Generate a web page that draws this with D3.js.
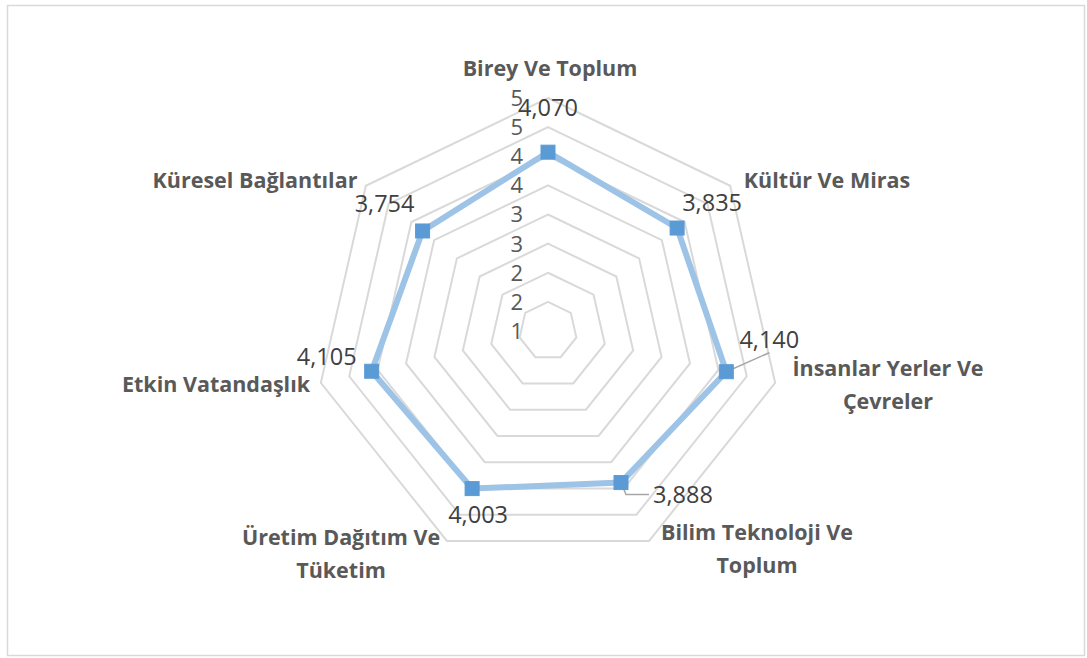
<!DOCTYPE html>
<html lang="tr">
<head>
<meta charset="utf-8">
<style type="text/css">
body { margin: 0; background: #fff; }
.grid { fill: none; stroke: #d9d9d9; stroke-width: 2px; }
.series { fill: none; stroke: #9dc3e6; stroke-width: 6px; stroke-linejoin: round; }
.marker { fill: #5b9bd5; stroke: #5b9bd5; stroke-width: 1px; }
.leader { stroke: #a6a6a6; stroke-width: 1.5px; fill: none; }
.cat { font-family: "Open Sans", sans-serif; font-weight: bold; font-size: 21.5px; fill: #595959; }
.val { font-family: "Open Sans", sans-serif; font-size: 23.5px; fill: #404040; }
.tick { font-family: "Open Sans", sans-serif; font-size: 22px; fill: #595959; }
</style>
</head>
<body>
<svg width="1087" height="658"></svg>
<script src="https://d3js.org/d3.v7.min.js"></script>
<script type="text/javascript">
var categories = [
    ["Birey Ve Toplum"],
    ["Kültür Ve Miras"],
    ["İnsanlar Yerler Ve", "Çevreler"],
    ["Bilim Teknoloji Ve", "Toplum"],
    ["Üretim Dağıtım Ve", "Tüketim"],
    ["Etkin Vatandaşlık"],
    ["Küresel Bağlantılar"]
];
var values = [4.070, 3.835, 4.140, 3.888, 4.003, 4.105, 3.754];
var ticks = [1, 1.5, 2, 2.5, 3, 3.5, 4, 4.5, 5];

// label placement (offsets from marker / positions of category text)
var valueOffsets = [[0, -45], [35, -25], [43, -32], [62, 12], [6, 26], [-45, -15], [-38, -27]];
var leaders = [false, false, true, true, false, false, false];
var catPos = [[550, 68], [827, 180], [888, 368], [757, 532], [341, 537], [216, 384], [255, 180]];

var svg = d3.select("svg"),
    cx = 548,
    cy = 331,
    R = 233;

svg.append("rect")
    .attr("x", 7.5).attr("y", 5.5)
    .attr("width", 1077).attr("height", 650)
    .attr("fill", "none").attr("stroke", "#d9d9d9").attr("stroke-width", 1.5);

var r = d3.scaleLinear().domain([1, 5]).range([0, R]);
var n = categories.length;

function angle(i) { return -Math.PI / 2 + i * 2 * Math.PI / n; }
function pt(i, v) {
    return [cx + r(v) * Math.cos(angle(i)), cy + r(v) * Math.sin(angle(i))];
}

var line = d3.line();

// grid rings
svg.selectAll(".grid")
    .data(ticks.slice(1))
    .enter()
    .append("path")
    .attr("class", "grid")
    .attr("d", function (t) {
        return line(d3.range(n).map(function (i) { return pt(i, t); })) + "Z";
    });

// tick labels
svg.selectAll(".tick")
    .data(ticks)
    .enter()
    .append("text")
    .attr("class", "tick")
    .attr("x", cx - 25)
    .attr("y", function (t) { return cy - r(t); })
    .attr("dy", "0.36em")
    .attr("text-anchor", "end")
    .text(function (t) { return d3.format(".0f")(t + 1e-9); });

// series
var pts = values.map(function (v, i) { return pt(i, v); });
svg.append("path")
    .attr("class", "series")
    .attr("d", line(pts) + "Z");

// leader lines
svg.selectAll(".leader")
    .data(pts.filter(function (p, i) { return leaders[i]; }))
    .enter()
    .append("path")
    .attr("class", "leader")
    .attr("d", function (p) {
        var i = pts.indexOf(p), o = valueOffsets[i];
        if (o[1] < 0) return "M" + p[0] + "," + p[1] + "L" + (p[0] + o[0]) + "," + (p[1] + o[1] + 13);
        return "M" + p[0] + "," + p[1] + "L" + (p[0] + 5) + "," + (p[1] + o[1]) + "L" + (p[0] + o[0] - 34) + "," + (p[1] + o[1]);
    });

svg.selectAll(".marker")
    .data(pts)
    .enter()
    .append("rect")
    .attr("class", "marker")
    .attr("x", function (p) { return p[0] - 7; })
    .attr("y", function (p) { return p[1] - 7; })
    .attr("width", 14)
    .attr("height", 14);

// value labels
svg.selectAll(".val")
    .data(values)
    .enter()
    .append("text")
    .attr("class", "val")
    .attr("x", function (v, i) { return pts[i][0] + valueOffsets[i][0]; })
    .attr("y", function (v, i) { return pts[i][1] + valueOffsets[i][1]; })
    .attr("dy", "0.36em")
    .attr("text-anchor", "middle")
    .text(function (v) { return d3.format(".3f")(v).replace(".", ","); });

// category labels
var cat = svg.selectAll(".cat")
    .data(categories)
    .enter()
    .append("text")
    .attr("class", "cat")
    .attr("text-anchor", "middle")
    .attr("x", function (d, i) { return catPos[i][0]; })
    .attr("y", function (d, i) { return catPos[i][1]; });

cat.selectAll("tspan")
    .data(function (d, i) { return d.map(function (s) { return [s, i]; }); })
    .enter()
    .append("tspan")
    .attr("x", function (d) { return catPos[d[1]][0]; })
    .attr("dy", function (d, j) { return j == 0 ? "0.36em" : "33px"; })
    .text(function (d) { return d[0]; });
</script>
</body>
</html>
